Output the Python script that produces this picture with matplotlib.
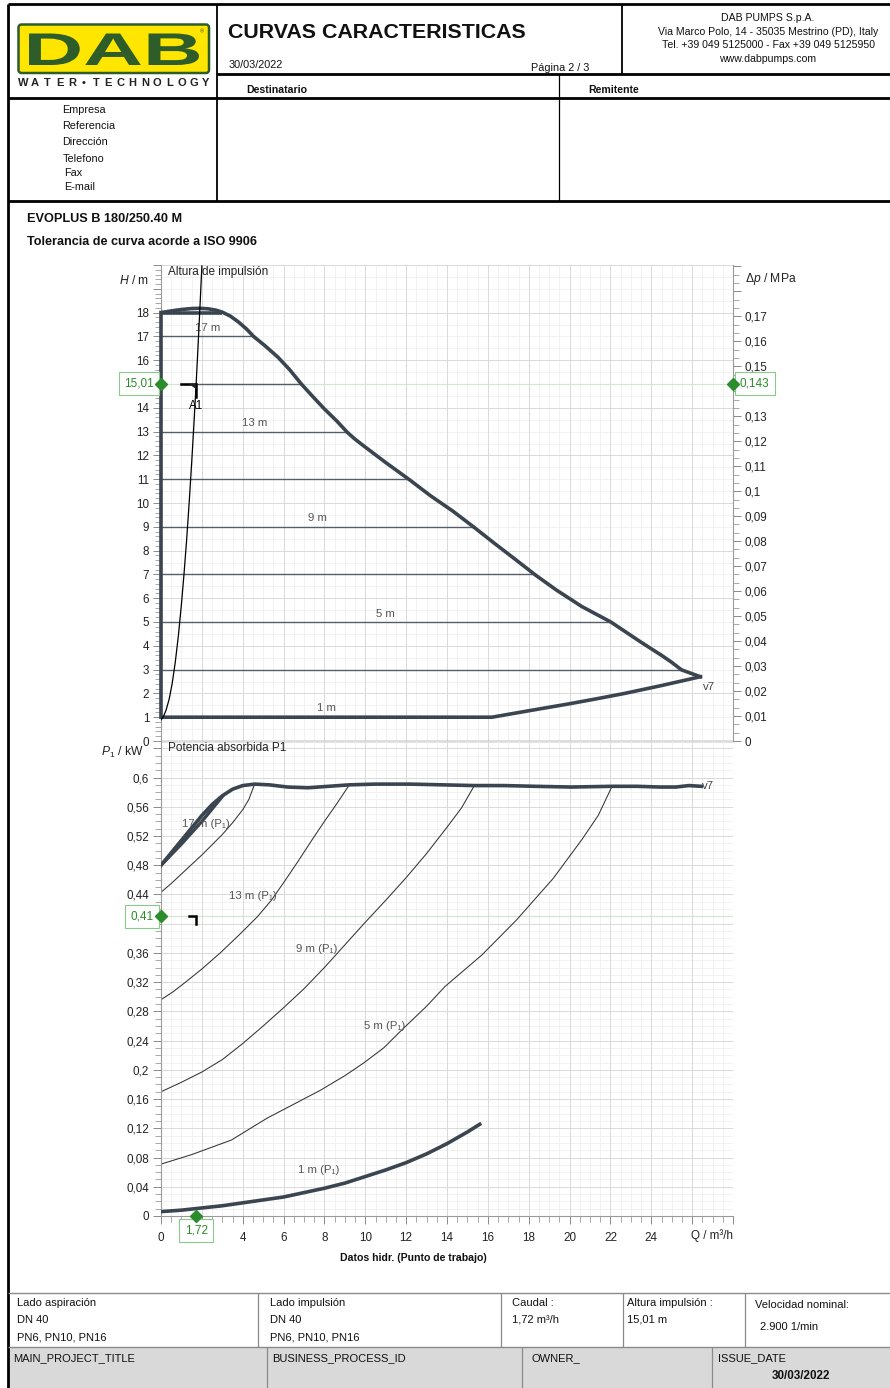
import numpy as np
import matplotlib
matplotlib.use("Agg")
import matplotlib.pyplot as plt
from matplotlib.patches import Rectangle, FancyBboxPatch, PathPatch, Polygon
from matplotlib.textpath import TextPath
from matplotlib.font_manager import FontProperties
from matplotlib.transforms import Affine2D, blended_transform_factory
from matplotlib.ticker import MultipleLocator, FuncFormatter

plt.rcParams['font.family'] = ['Liberation Sans', 'DejaVu Sans']
plt.rcParams['mathtext.fontset'] = 'custom'
plt.rcParams['mathtext.rm'] = 'Liberation Sans'
plt.rcParams['mathtext.it'] = 'Liberation Sans:italic'
plt.rcParams['mathtext.bf'] = 'Liberation Sans:bold'

# operating point A1
op_q = 1.72
op_h = 15.01
op_dp = 0.143
op_p = 0.41

# head curve at max speed (v7)
h_max_q = [0, 0.5, 1.0, 1.5, 1.9, 2.3, 2.7, 3.0, 3.4, 3.8, 4.2, 4.53, 5.1, 5.72, 6.3, 6.86,
           7.4, 8.0, 8.6, 9.13, 9.5, 9.92, 11.0, 12.19, 13.2, 14.3, 15.34, 16.3, 17.3, 18.32,
           19.36, 20.6, 22.02, 23.5, 24.5, 24.96, 25.48, 26.4]
h_max_h = [18.0, 18.07, 18.13, 18.17, 18.18, 18.16, 18.1, 18.02, 17.85, 17.6, 17.3, 17.0, 16.6,
           16.13, 15.6, 15.01, 14.5, 13.95, 13.45, 12.96, 12.68, 12.4, 11.7, 10.96, 10.3, 9.65,
           8.97, 8.32, 7.66, 6.98, 6.34, 5.65, 5.0, 4.15, 3.6, 3.33, 2.99, 2.70]
# lower boundary back to Q=0 and up the left edge
h_low_q = [26.4, 24.5, 22.7, 21.3, 19.9, 18.0, 16.2, 0, 0]
h_low_h = [2.70, 2.33, 2.0, 1.77, 1.55, 1.27, 1.0, 1.0, 18.0]
h_top_q = [0, 3.0]
h_top_h = [18.0, 18.0]

# constant pressure set points and where they meet the max curve
cp_levels = [17, 13, 11, 9, 7, 5, 3]
cp_end_q = [4.53, 9.13, 12.19, 15.34, 18.32, 22.02, 25.48]
cp_labels = ["17 m", "13 m", None, "9 m", None, "5 m", None]
cp_op_start = 1.0
cp_op_end = 6.86

# system curve through A1
sys_q = [0, 0.13, 0.25, 0.4, 0.55, 0.7, 0.85, 1.0, 1.12, 1.25, 1.38, 1.5, 1.61, 1.72, 1.82, 1.92, 2.0]
sys_h = [0.88, 1.05, 1.3, 1.76, 2.43, 3.32, 4.42, 5.74, 6.95, 8.4, 10.03, 11.67, 13.29, 15.01, 16.7, 18.47, 19.96]

# absorbed power P1
p_max_q = [0, 0.5, 1.0, 1.5, 2.0, 2.5, 3.0, 3.5, 4.0, 4.58, 5.3, 6.2, 7.2, 8.2, 9.22, 10.5, 12.19,
           13.8, 15.34, 16.8, 18.32, 20.07, 22.08, 23.3, 24.44, 25.2, 25.84, 26.45]
p_max_p = [0.48, 0.497, 0.514, 0.531, 0.548, 0.563, 0.575, 0.584, 0.589, 0.591, 0.590, 0.587, 0.586,
           0.588, 0.590, 0.591, 0.591, 0.590, 0.589, 0.589, 0.588, 0.587, 0.588, 0.588, 0.587, 0.587,
           0.589, 0.588]
p_18_q = [0, 1.0, 2.0, 2.5, 3.0]
p_18_p = [0.48, 0.509, 0.540, 0.557, 0.574]
p_17_q = [0, 0.5, 1.0, 1.5, 2.0, 2.5, 3.0, 3.5, 4.0, 4.3, 4.58]
p_17_p = [0.443, 0.455, 0.468, 0.481, 0.494, 0.508, 0.522, 0.538, 0.556, 0.570, 0.591]
p_13_q = [0, 0.6, 1.2, 2.0, 2.9, 3.8, 4.7, 5.4, 6.0, 6.7, 7.4, 8.0, 8.6, 9.22]
p_13_p = [0.296, 0.307, 0.320, 0.338, 0.360, 0.384, 0.409, 0.432, 0.456, 0.485, 0.515, 0.540, 0.564, 0.590]
p_9_q = [0, 1.0, 2.0, 3.0, 4.0, 5.0, 6.0, 7.0, 8.0, 9.0, 10.0, 11.0, 12.0, 13.0, 14.0, 14.7, 15.34]
p_9_p = [0.170, 0.183, 0.197, 0.214, 0.236, 0.260, 0.285, 0.311, 0.340, 0.371, 0.402, 0.432, 0.463,
         0.496, 0.532, 0.558, 0.589]
p_5_q = [0, 1.5, 3.45, 5.2, 6.5, 7.8, 9.0, 9.9, 10.9, 11.8, 13.0, 13.9, 15.7, 17.4, 19.2, 20.6, 21.4, 22.08]
p_5_p = [0.071, 0.084, 0.104, 0.134, 0.153, 0.172, 0.192, 0.209, 0.230, 0.255, 0.287, 0.314, 0.357,
         0.405, 0.462, 0.515, 0.548, 0.588]
p_1_q = [0, 1.0, 2.0, 3.0, 4.0, 5.0, 6.0, 7.0, 8.0, 9.0, 10.0, 11.0, 12.0, 13.0, 14.0, 15.0, 15.6]
p_1_p = [0.006, 0.008, 0.011, 0.014, 0.018, 0.022, 0.026, 0.032, 0.038, 0.045, 0.054, 0.063, 0.073,
         0.085, 0.099, 0.115, 0.1255]

company = ["DAB PUMPS S.p.A.", "Via Marco Polo, 14 - 35035 Mestrino (PD), Italy",
           "Tel. +39 049 5125000 - Fax +39 049 5125950", "www.dabpumps.com"]
contact_fields = ["Empresa", "Referencia", "Dirección", "Telefono", "Fax", "E-mail"]

DARK = '#3a4550'
GREEN = '#2a8c2a'
GREEN_BOX = '#8cc88c'
GREEN_LINE = '#d2e8d2'

W, H = 890, 1388
fig = plt.figure(figsize=(W / 100, H / 100), dpi=100)

page = fig.add_axes([0, 0, 1, 1], zorder=0)
page.set_xlim(0, W)
page.set_ylim(H, 0)
page.axis('off')


def pline(xs, ys, lw=1.5, color='black'):
    page.plot(xs, ys, color=color, lw=lw, solid_capstyle='butt')


def ptext(x, y, s, size=7.8, **kw):
    kw.setdefault('va', 'center')
    return page.text(x, y, s, fontsize=size, color=kw.pop('color', '#111111'), **kw)


def clip_to(t, x0, x1):
    t.set_clip_path(Rectangle((x0, 0), x1 - x0, H, transform=page.transData))


# --- header frame
pline([8, W], [4, 4], 2.0)
pline([8, 8], [4, H], 2.0)
pline([217, 217], [4, 201], 1.3)
pline([217, W], [74, 74], 2.0)
pline([622, 622], [4, 74], 1.3)
pline([8, W], [98, 98], 2.0)
pline([559, 559], [74, 201], 0.9)
pline([8, W], [201, 201], 2.0)

# logo
page.add_patch(FancyBboxPatch((18.5, 24.5), 190.5, 48.5, boxstyle='round,pad=0,rounding_size=3',
                              fc='#ffe600', ec='#2f5d2a', lw=1.8))
tp = TextPath((0, 0), 'DAB', size=10, prop=FontProperties(family='Liberation Sans', weight='bold'))
ext = tp.get_extents()
X0, X1, Yt, Yb = 29, 199, 33.5, 65
tr = (Affine2D().translate(-ext.x0, -ext.y0)
      .scale((X1 - X0) / ext.width, -(Yb - Yt) / ext.height).translate(X0, Yb))
page.add_patch(PathPatch(tr.transform_path(tp), fc='#2f5d2a', ec='none'))
ptext(202, 32, '®', size=4, ha='center', color='#2f5d2a')
for i, ch in enumerate("WATER•TECHNOLOGY"):
    ptext(23 + i * 12.19, 82.5, ch, size=8, ha='center', color='#222222', weight='bold')

ptext(228, 32, "CURVAS CARACTERISTICAS", size=15.4, weight='bold')
clip_to(ptext(229, 65, "30/03/2022", size=7.8), 0, 278)
ptext(531, 68, "Página 2 / 3", size=7.8)
for i, line in enumerate(company):
    ptext(768, 18 + i * 13.7, line, size=7.6, ha='center')
ptext(246, 90, "Destinatario", size=7.6, weight='bold')
ptext(588, 90, "Remitente", size=7.6, weight='bold')
for i, (f, y) in enumerate(zip(contact_fields, [110, 126, 142, 159, 173, 187])):
    ptext(62.5 if i < 4 else 64, y, f, size=7.8)

ptext(27, 219, "EVOPLUS B 180/250.40 M", size=9.2, weight='bold')
ptext(27, 242, "Tolerancia de curva acorde a ISO 9906", size=9.1, weight='bold')

# --- footer table
page.add_patch(Rectangle((8, 1347), W - 8, 41, fc='#d9d9d9', ec='none'))
pline([8, W], [1293, 1293], 1.0, '#8a8a8a')
pline([8, W], [1347, 1347], 1.0, '#8a8a8a')
for x in [258, 500.5, 623, 744.5]:
    pline([x, x], [1293, 1347], 0.9, '#8a8a8a')
for x in [266.5, 522, 712]:
    pline([x, x], [1347, H], 0.9, '#8a8a8a')
FS = 8
ptext(17, 1303, "Lado aspiración", size=FS)
ptext(17, 1320, "DN 40", size=FS)
ptext(17, 1338, "PN6, PN10, PN16", size=FS)
ptext(270, 1303, "Lado impulsión", size=FS)
ptext(270, 1320, "DN 40", size=FS)
ptext(270, 1338, "PN6, PN10, PN16", size=FS)
ptext(512, 1303, "Caudal :", size=FS)
ptext(512, 1320, "1,72 m³/h", size=FS)
ptext(627, 1303, "Altura impulsión :", size=FS)
ptext(627, 1320, "15,01 m", size=FS)
ptext(755, 1305, "Velocidad nominal:", size=FS)
ptext(760, 1327, "2.900 1/min", size=FS)
clip_to(ptext(13, 1358, "MAIN_PROJECT_TITLE", size=FS), 0, 129)
clip_to(ptext(272, 1358, "BUSINESS_PROCESS_ID", size=FS), 0, 390)
ptext(532, 1358, "OWNER_", size=FS)
ptext(718, 1358, "ISSUE_DATE", size=FS)
ptext(801, 1376, "30/03/2022", size=8.4, weight='bold', ha='center')


# --- chart helpers
def comma(v, pos=None, vmax=None, skip=()):
    if vmax is not None and v > vmax + 1e-9:
        return ''
    if any(abs(v - s) < 1e-9 for s in skip):
        return ''
    return ('%.4f' % v).rstrip('0').rstrip('.').replace('.', ',')


def draw_grid(ax, xmaj, xmin, ymaj, ymin):
    for v in xmin:
        ax.axvline(v, color='#f0f0f0', lw=0.6, zorder=0)
    for v in ymin:
        ax.axhline(v, color='#f0f0f0', lw=0.6, zorder=0)
    for v in xmaj:
        ax.axvline(v, color='#dadada', lw=0.7, zorder=0.1)
    for v in ymaj:
        ax.axhline(v, color='#dadada', lw=0.7, zorder=0.1)


def style_axis(ax, which_axis):
    ax.tick_params(axis=which_axis, which='major', direction='out', length=5.5, width=0.7,
                   color='#8a8a8a', labelsize=8.4, labelcolor='#222222', pad=3)
    ax.tick_params(axis=which_axis, which='minor', direction='out', length=4, width=0.6,
                   color='#9a9a9a')


def value_box(ax, x, y, text, dx, dy, ha):
    ax.annotate(text, xy=(x, y), xytext=(dx, dy), textcoords='offset points', ha=ha, va='center',
                fontsize=8.5, color=GREEN, zorder=8, annotation_clip=False,
                bbox=dict(boxstyle='square,pad=0.45', fc='white', ec=GREEN_BOX, lw=0.8))


left, width = 161 / W, 572 / W

# --- H chart
ax_h = fig.add_axes([left, 1 - 741 / H, width, 476 / H], zorder=2)
ax_h.set_facecolor('none')
ax_h.set_xlim(0, 28)
ax_h.set_ylim(0, 20)
draw_grid(ax_h, np.arange(0, 28.1, 2), np.arange(0, 28.1, 0.5), np.arange(0, 20.1, 2), np.arange(0, 20.1, 0.5))
ax_h.yaxis.set_major_locator(MultipleLocator(1))
ax_h.yaxis.set_minor_locator(MultipleLocator(0.2))
ax_h.yaxis.set_major_formatter(FuncFormatter(lambda v, p: comma(v, vmax=18, skip=(15,))))
style_axis(ax_h, 'y')
ax_h.tick_params(axis='x', which='both', bottom=False, labelbottom=False)
for s in ['top', 'right']:
    ax_h.spines[s].set_visible(False)
ax_h.spines['left'].set_color('#9a9a9a')
ax_h.spines['left'].set_linewidth(0.8)
ax_h.spines['bottom'].set_color('#6e6e6e')
ax_h.spines['bottom'].set_linewidth(1.0)

ax_h.axhline(op_h, color=GREEN_LINE, lw=0.9, zorder=0.5)
for lvl, qe, lab in zip(cp_levels, cp_end_q, cp_labels):
    ax_h.plot([0, qe], [lvl, lvl], color='#545e68', lw=1.0, zorder=2)
    if lab:
        ax_h.text(qe / 2, lvl + 0.35, lab, ha='center', va='center', fontsize=8.2, color='#555555', zorder=4)
ax_h.plot([cp_op_start, cp_op_end], [op_h, op_h], color='#545e68', lw=1.0, zorder=2)
ax_h.text(8.1, 1.37, "1 m", ha='center', va='center', fontsize=8.2, color='#555555', zorder=4)

ax_h.plot(h_top_q, h_top_h, color=DARK, lw=2.6, zorder=3, solid_capstyle='butt')
ax_h.plot(h_max_q, h_max_h, color=DARK, lw=2.6, zorder=3, solid_joinstyle='round')
ax_h.plot(h_low_q, h_low_h, color=DARK, lw=2.6, zorder=3, solid_joinstyle='miter', clip_on=False)
ax_h.plot(sys_q, sys_h, color='black', lw=0.9, zorder=4)
ax_h.text(26.55, 2.28, "v7", ha='left', va='center', fontsize=8.2, color='#444444')

# A1 corner marker
ax_h.plot([op_q - 0.72, op_q, op_q], [op_h, op_h, op_h - 0.55], color='black', lw=1.8, zorder=6,
          solid_joinstyle='miter')
ax_h.add_patch(Polygon([[op_q - 0.33, op_h], [op_q, op_h], [op_q, op_h - 0.24]], closed=True,
                       fc='#222222', ec='none', zorder=6))
ax_h.text(op_q, op_h - 0.93, "A1", ha='center', va='center', fontsize=8.4, color='black', zorder=6)

ax_h.plot([0], [op_h], marker='D', ms=6.5, color=GREEN, clip_on=False, zorder=9)
value_box(ax_h, 0, op_h, comma(op_h), -5.2, 0, 'right')

ax_h.text(-0.02, 19.35, r"$H$ / m", transform=blended_transform_factory(ax_h.transAxes, ax_h.transData),
          ha='right', va='center', fontsize=8.7, color='#222222')
ax_h.text(0.012, 19.7, "Altura de impulsión", transform=blended_transform_factory(ax_h.transAxes, ax_h.transData),
          ha='left', va='center', fontsize=8.5, color='#222222')

# pressure axis on the right
ax_dp = ax_h.twinx()
ax_dp.set_zorder(3)
ax_dp.set_ylim(0, 20 * op_dp / op_h)
ax_dp.yaxis.set_major_locator(MultipleLocator(0.01))
ax_dp.yaxis.set_minor_locator(MultipleLocator(0.01 / 3))
ax_dp.yaxis.set_major_formatter(FuncFormatter(lambda v, p: comma(v, vmax=0.17, skip=(0.14,))))
style_axis(ax_dp, 'y')
for s in ['top', 'left', 'bottom']:
    ax_dp.spines[s].set_visible(False)
ax_dp.spines['right'].set_color('#9a9a9a')
ax_dp.spines['right'].set_linewidth(0.8)
ax_dp.plot([28], [op_dp], marker='D', ms=6.5, color=GREEN, clip_on=False, zorder=9)
value_box(ax_dp, 28, op_dp, comma(op_dp), 5.0, 0, 'left')
ax_dp.text(1.021, 19.4 * op_dp / op_h, r"$\Delta p$ / MPa",
           transform=blended_transform_factory(ax_dp.transAxes, ax_dp.transData),
           ha='left', va='center', fontsize=8.7, color='#222222')

# --- P1 chart
ax_p = fig.add_axes([left, 1 - 1216 / H, width, 475 / H], zorder=2)
ax_p.set_facecolor('none')
ax_p.set_xlim(0, 28)
ax_p.set_ylim(0, 0.65)
draw_grid(ax_p, np.arange(0, 28.1, 2), np.arange(0, 28.1, 0.5), np.arange(0, 0.65, 0.04), np.arange(0, 0.651, 0.01))
ax_p.yaxis.set_major_locator(MultipleLocator(0.04))
ax_p.yaxis.set_minor_locator(MultipleLocator(0.01))
ax_p.yaxis.set_major_formatter(FuncFormatter(lambda v, p: comma(v, vmax=0.6, skip=(0.4,))))
ax_p.xaxis.set_major_locator(MultipleLocator(2))
ax_p.xaxis.set_minor_locator(MultipleLocator(0.5))
ax_p.xaxis.set_major_formatter(FuncFormatter(lambda v, p: comma(v, vmax=24, skip=(2,))))
style_axis(ax_p, 'y')
style_axis(ax_p, 'x')
ax_p.tick_params(axis='x', which='major', pad=6)
for s in ['top', 'right']:
    ax_p.spines[s].set_visible(False)
for s in ['left', 'bottom']:
    ax_p.spines[s].set_color('#9a9a9a')
    ax_p.spines[s].set_linewidth(0.8)

ax_p.axhline(op_p, color=GREEN_LINE, lw=0.9, zorder=0.5)
for qs, ps in [(p_17_q, p_17_p), (p_13_q, p_13_p), (p_9_q, p_9_p), (p_5_q, p_5_p)]:
    ax_p.plot(qs, ps, color='#333333', lw=0.75, zorder=2)
ax_p.plot(p_18_q, p_18_p, color=DARK, lw=2.4, zorder=3)
ax_p.plot(p_max_q, p_max_p, color=DARK, lw=2.6, zorder=3)
ax_p.plot(p_1_q, p_1_p, color=DARK, lw=2.6, zorder=3)
ax_p.text(26.5, 0.588, "v7", ha='left', va='center', fontsize=8.2, color='#444444')
for x, y, s in [(2.2, 0.536, "17 m (P₁)"), (4.5, 0.438, "13 m (P₁)"), (7.6, 0.365, "9 m (P₁)"),
                (10.94, 0.26, "5 m (P₁)"), (7.7, 0.063, "1 m (P₁)")]:
    ax_p.text(x, y, s, ha='center', va='center', fontsize=8.2, color='#555555', zorder=4)

ax_p.plot([op_q - 0.36, op_q, op_q], [op_p, op_p, op_p - 0.010], color='black', lw=1.8, zorder=6,
          solid_joinstyle='miter')
ax_p.plot([0], [op_p], marker='D', ms=6.5, color=GREEN, clip_on=False, zorder=9)
value_box(ax_p, 0, op_p, comma(op_p), -5.2, 0, 'right')
ax_p.plot([op_q], [0], marker='D', ms=6.5, color=GREEN, clip_on=False, zorder=9)
value_box(ax_p, op_q, 0, comma(op_q), 0, -10.4, 'center')

ax_p.text(-0.031, 0.634, r"$P_1$ / kW", transform=blended_transform_factory(ax_p.transAxes, ax_p.transData),
          ha='right', va='center', fontsize=8.7, color='#222222')
ax_p.text(0.012, 0.640, "Potencia absorbida P1", transform=blended_transform_factory(ax_p.transAxes, ax_p.transData),
          ha='left', va='center', fontsize=8.5, color='#222222')
ax_p.text(1.0, -20 / 475, "Q / m³/h", transform=ax_p.transAxes, ha='right', va='center',
          fontsize=8.4, color='#222222')
ax_p.text(0.442, -42 / 475, "Datos hidr. (Punto de trabajo)", transform=ax_p.transAxes, ha='center',
          va='center', fontsize=7.6, weight='bold', color='#111111')

fig.savefig('out.png', dpi=100)
